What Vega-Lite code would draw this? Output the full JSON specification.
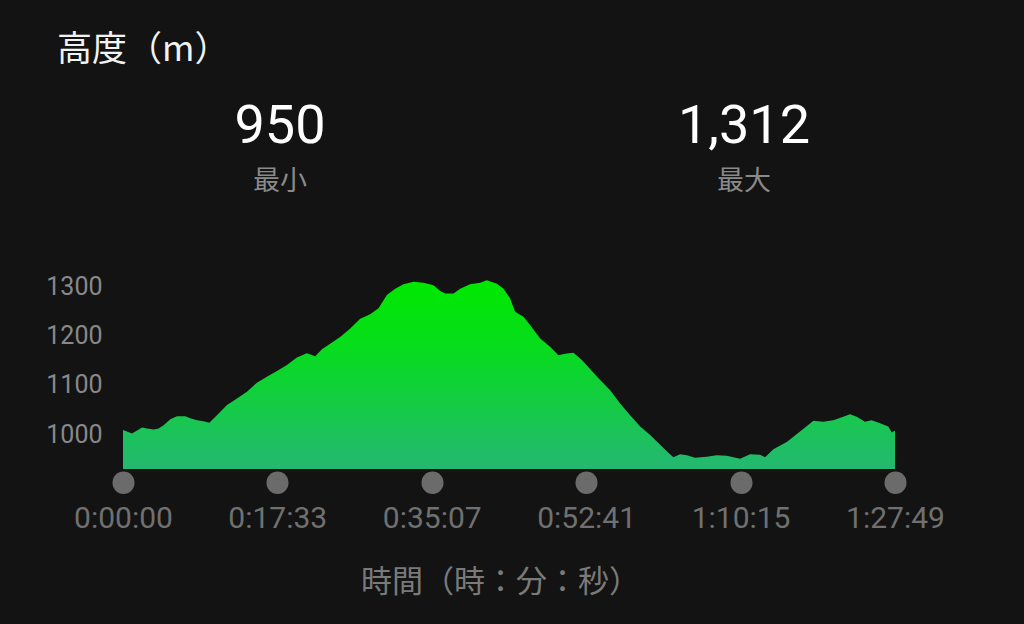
{
  "$schema": "https://vega.github.io/schema/vega-lite/v6.json",
  "width": 772,
  "height": 206,
  "autosize": "none",
  "padding": {"left": 123, "top": 263, "right": 129, "bottom": 155},
  "background": "#131313",
  "config": {"view": {"stroke": null}, "font": "Roboto"},
  "title": {
    "text": "高度（m）",
    "anchor": "start",
    "frame": "group",
    "font": "Noto Sans CJK JP",
    "fontSize": 35,
    "fontWeight": "normal",
    "color": "#f2f2f2",
    "dx": -66,
    "dy": -28
  },
  "layer": [
    {
      "data": {
        "values": [
          {"t": 0, "elev": 1008}, {"t": 27, "elev": 1005}, {"t": 61, "elev": 1001}, {"t": 96, "elev": 1007},
          {"t": 130, "elev": 1013}, {"t": 164, "elev": 1011}, {"t": 209, "elev": 1009}, {"t": 243, "elev": 1011},
          {"t": 277, "elev": 1018}, {"t": 323, "elev": 1030}, {"t": 368, "elev": 1036}, {"t": 425, "elev": 1036},
          {"t": 459, "elev": 1032}, {"t": 505, "elev": 1028}, {"t": 550, "elev": 1026}, {"t": 589, "elev": 1023},
          {"t": 641, "elev": 1038}, {"t": 710, "elev": 1059}, {"t": 778, "elev": 1072}, {"t": 846, "elev": 1086},
          {"t": 914, "elev": 1104}, {"t": 982, "elev": 1116}, {"t": 1051, "elev": 1128}, {"t": 1119, "elev": 1140},
          {"t": 1187, "elev": 1155}, {"t": 1255, "elev": 1164}, {"t": 1312, "elev": 1158}, {"t": 1358, "elev": 1172},
          {"t": 1414, "elev": 1183}, {"t": 1482, "elev": 1197}, {"t": 1551, "elev": 1214}, {"t": 1619, "elev": 1234},
          {"t": 1687, "elev": 1243}, {"t": 1744, "elev": 1255}, {"t": 1801, "elev": 1282}, {"t": 1858, "elev": 1295},
          {"t": 1914, "elev": 1304}, {"t": 1983, "elev": 1309}, {"t": 2051, "elev": 1307}, {"t": 2119, "elev": 1302},
          {"t": 2165, "elev": 1290}, {"t": 2199, "elev": 1285}, {"t": 2256, "elev": 1285}, {"t": 2301, "elev": 1295},
          {"t": 2369, "elev": 1304}, {"t": 2438, "elev": 1307}, {"t": 2483, "elev": 1312}, {"t": 2552, "elev": 1305},
          {"t": 2597, "elev": 1295}, {"t": 2642, "elev": 1275}, {"t": 2676, "elev": 1248}, {"t": 2733, "elev": 1238},
          {"t": 2778, "elev": 1221}, {"t": 2847, "elev": 1194}, {"t": 2915, "elev": 1177}, {"t": 2972, "elev": 1160},
          {"t": 3017, "elev": 1163}, {"t": 3074, "elev": 1165}, {"t": 3132, "elev": 1150}, {"t": 3188, "elev": 1132},
          {"t": 3245, "elev": 1113}, {"t": 3325, "elev": 1089}, {"t": 3393, "elev": 1062}, {"t": 3461, "elev": 1038},
          {"t": 3530, "elev": 1015}, {"t": 3598, "elev": 998}, {"t": 3666, "elev": 978}, {"t": 3722, "elev": 962},
          {"t": 3757, "elev": 953}, {"t": 3802, "elev": 959}, {"t": 3848, "elev": 957}, {"t": 3905, "elev": 952},
          {"t": 3984, "elev": 954}, {"t": 4053, "elev": 957}, {"t": 4121, "elev": 956}, {"t": 4212, "elev": 950},
          {"t": 4280, "elev": 959}, {"t": 4348, "elev": 958}, {"t": 4382, "elev": 953}, {"t": 4439, "elev": 969},
          {"t": 4530, "elev": 984}, {"t": 4621, "elev": 1005}, {"t": 4712, "elev": 1027}, {"t": 4780, "elev": 1025},
          {"t": 4848, "elev": 1028}, {"t": 4916, "elev": 1035}, {"t": 4962, "elev": 1040}, {"t": 5008, "elev": 1035},
          {"t": 5064, "elev": 1025}, {"t": 5110, "elev": 1028}, {"t": 5167, "elev": 1022}, {"t": 5223, "elev": 1015},
          {"t": 5247, "elev": 1003}, {"t": 5269, "elev": 1007}
        ]
      },
      "mark": {
        "type": "area",
        "interpolate": "linear",
        "color": {
          "gradient": "linear",
          "x1": 0, "y1": 0, "x2": 0, "y2": 1,
          "stops": [
            {"offset": 0, "color": "#00e800"},
            {"offset": 0.35, "color": "#06dd1c"},
            {"offset": 1, "color": "#24b872"}
          ]
        }
      },
      "encoding": {
        "x": {
          "field": "t",
          "type": "quantitative",
          "scale": {"domain": [0, 5269], "nice": false, "zero": false},
          "axis": {
            "values": [0, 1053, 2107, 3161, 4215, 5269],
            "labelExpr": "utcFormat(datum.value * 1000, '%-H:%M:%S')",
            "grid": false,
            "domain": false,
            "offset": 13,
            "ticks": true,
            "tickCap": "round",
            "tickWidth": 22,
            "tickSize": 0.5,
            "tickColor": "#6b6b6b",
            "labelPadding": 21,
            "labelFont": "Roboto",
            "labelFontSize": 30,
            "labelColor": "#707070",
            "labelOverlap": false,
            "labelBound": false,
            "labelFlush": false,
            "title": "時間（時：分：秒）",
            "titleFont": "Noto Sans CJK JP",
            "titleFontSize": 31,
            "titleFontWeight": "normal",
            "titleColor": "#7a7a7a",
            "titleX": 377,
            "titleY": 100,
            "titleBaseline": "middle",
            "titleAlign": "center"
          }
        },
        "y": {
          "field": "elev",
          "type": "quantitative",
          "scale": {"domain": [929, 1347], "nice": false, "zero": false},
          "axis": {
            "values": [1000, 1100, 1200, 1300],
            "format": "d",
            "grid": false,
            "domain": false,
            "ticks": false,
            "tickSize": 0,
            "labelPadding": 21,
            "labelFont": "Roboto",
            "labelFontSize": 25,
            "labelColor": "#888888",
            "title": null
          }
        },
        "y2": {"datum": 929}
      }
    },
    {
      "data": {"values": [{"stat": "最小", "value": "950"}, {"stat": "最大", "value": "1,312"}]},
      "mark": {"type": "text", "font": "Roboto", "fontSize": 54, "color": "#ffffff", "baseline": "middle", "align": "center"},
      "encoding": {
        "x": {"field": "stat", "type": "nominal", "scale": {"type": "point", "domain": ["最小", "最大"], "range": [157, 621], "padding": 0}, "axis": null},
        "y": {"value": -136},
        "text": {"field": "value"}
      }
    },
    {
      "data": {"values": [{"stat": "最小", "value": "950"}, {"stat": "最大", "value": "1,312"}]},
      "mark": {"type": "text", "font": "Noto Sans CJK JP", "fontSize": 27, "color": "#8a8a8a", "baseline": "middle", "align": "center"},
      "encoding": {
        "x": {"field": "stat", "type": "nominal", "scale": {"type": "point", "domain": ["最小", "最大"], "range": [157, 621], "padding": 0}, "axis": null},
        "y": {"value": -81},
        "text": {"field": "stat"}
      }
    }
  ],
  "resolve": {"scale": {"x": "independent"}}
}
